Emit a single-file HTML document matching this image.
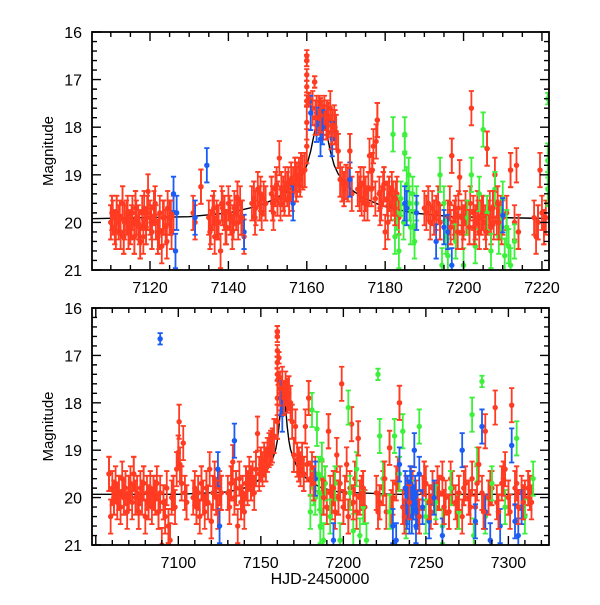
<!DOCTYPE html>
<html><head><meta charset="utf-8"><style>
html,body{margin:0;padding:0;background:#fff}
svg text{font-family:"Liberation Sans",sans-serif}
</style></head><body>
<svg id="c" width="600" height="600" viewBox="0 0 600 600" xmlns="http://www.w3.org/2000/svg"></svg>
<script>
// ---------- DATA ----------
const topRedT=[7110,7110.5,7111,7111.5,7112,7112.5,7113,7113.5,7114,7114.5,7115,7115.5,7116,7116.5,7117,7117.5,7118,7118.5,7119,7119.5,7120,7120.5,7121,7121.5,7122,7122.5,7123,7123.5,7124,7124.5,7125,7125.5,7126,
7110.3,7111.3,7112.3,7113.3,7114.3,7115.3,7116.3,7117.3,7118.3,7119.3,7120.3,7121.3,7122.3,7123.3,7124.3,7125.3,
7131,7131.5,7133,
7135,7135.5,7136,7136.5,7137,7137.5,7138,7138.5,7139,7139.5,7140,7140.5,7141,7141.5,7142,7142.5,7143,7143.5,7144,
7135.3,7136.3,7137.3,7138.3,7139.3,7140.3,7141.3,7142.3,7143.3,
7146,7146.5,7147,7147.5,7148,7148.5,7149,7149.5,7146.8,7148.2,
7151,7151.5,7152,7152.5,7153,7153.5,7154,7154.5,7155,7155.5,7156,7156.5,7157,7157.5,7158,7158.5,7159,7159.5,
7151.3,7152.3,7153.3,7154.3,7155.3,7156.3,7157.3,7158.3,
7160,7160,7160,7160,7160,7160,7160,
7160.5,7161,7161.5,7162,7162.5,7163,7163.5,7164,7164.5,7165,7165.5,7166,7166.5,7167,7167.5,7162.2,7163.2,7164.2,7165.2,7166.2,7167.2,7168,
7168.5,7169,7169.5,7170,7170.5,7171,7171.5,
7173,7173.5,7174,7174.5,7175,7175.5,7176,7176.5,7177,7177.5,7178,7178.5,7179,7179.5,7180,7180.5,7181,7181.5,7182,7182.5,7183,7183.5,
7173.7,7174.7,7175.7,7176.7,7177.7,7178.7,7179.7,7180.7,7181.7,7182.7,
7190,7190.5,7191,7191.5,7192,7192.5,7193,7193.5,7194,
7196,7196.5,7197,7197.5,7198,7198.5,7199,7199.5,7200,7200.5,7201,7201.5,7202,7202.5,7203,7203.5,7204,7204.5,7205,7205.5,7206,7206.5,7207,7207.5,7208,7208.5,7209,7209.5,7210,
7196.7,7197.7,7198.7,7199.7,7200.7,7201.7,7202.7,7203.7,7204.7,7205.7,7206.7,7207.7,7208.7,7209.7,
7211,7212,7213,7213.5,7214,
7218,7218.5,7219,7219.5,7220,7220.5,7221];
const topRedM=[20.0,19.9,20.1,19.8,20.0,20.2,19.6,20.0,19.9,20.2,20.1,19.8,20.3,19.9,20.0,20.4,19.8,19.7,20.1,19.35,19.9,20.2,19.7,20.0,20.3,19.8,20.5,19.9,20.1,19.7,19.9,20.2,19.8,
19.8,20.2,19.9,20.3,19.8,20.0,19.7,20.1,20.3,19.8,20.0,19.6,20.2,19.9,20.4,19.9,
19.8,20.0,19.25,
19.9,20.1,19.8,20.3,19.9,20.0,20.6,19.7,19.8,20.1,19.6,19.9,20.2,19.7,19.8,20.0,19.6,19.9,20.3,
20.2,19.7,20.0,19.6,20.1,19.8,20.0,19.5,19.9,
19.6,19.5,19.7,19.3,19.6,19.8,19.5,19.6,19.9,19.4,
19.4,19.8,19.3,19.5,18.65,19.3,19.4,19.2,19.3,19.5,19.1,19.2,19.0,19.1,19.0,18.9,18.95,18.9,
19.6,19.2,19.6,19.5,19.2,19.4,19.2,19.1,
16.5,16.6,16.9,17.15,17.45,17.9,18.4,
17.4,17.45,17.6,17.05,17.7,17.8,17.75,17.8,17.7,17.9,17.85,17.6,18.0,17.9,18.1,17.8,17.7,17.9,17.8,18.1,18.0,18.5,
19.1,19.2,19.3,19.15,19.2,18.5,19.4,
19.3,19.4,19.5,19.2,19.4,19.6,18.6,19.3,18.4,19.5,17.85,19.4,19.6,19.3,20.2,19.5,19.4,19.6,19.5,19.7,19.4,19.9,
19.2,19.6,19.3,18.9,18.3,19.7,19.2,20.0,19.3,19.5,
19.7,19.8,19.6,20.0,19.7,19.9,19.8,19.6,20.0,
19.9,19.6,18.6,20.0,19.8,20.2,19.05,19.9,20.0,19.7,19.9,20.1,17.6,19.8,20.0,19.7,20.2,19.9,19.8,20.0,18.45,19.9,20.1,19.7,19.0,19.9,20.0,19.8,19.9,
20.1,19.9,19.7,20.2,19.9,19.6,20.1,19.9,19.8,20.2,19.7,20.0,19.6,20.1,
19.8,18.9,20.0,18.8,20.2,
19.9,20.3,20.0,18.9,19.8,20.1,19.9];
const topBlueT=[7126,7126.5,7126.8,7131.5,7134.5,7144,7156.5,7161,7162.5,7163.5,7164,7166.5,7171,7185,7185.5,7188,7193,7195,7196,7197,7210];
const topBlueM=[19.4,20.6,19.8,19.9,18.8,20.2,19.6,17.7,17.95,18.25,18.0,18.25,19.1,19.6,19.7,19.8,20.4,20.1,20.2,20.9,19.85];
const topGreenT=[7182,7182.5,7183,7183.5,7184,7185,7185,7185.5,7186,7186.5,7187,7187.5,7188,7184.7,7186.2,7187.2,7194,7194.5,7195,7195.5,7196,7198,7200,7201,7202,7203,7204,7205,7206,7207,7208,7209,7210,7210.5,7211,7212,7213,7209.5,7211.5,7221.5,7221.5,7221.5];
const topGreenM=[18.15,20.3,19.8,20.6,19.5,18.15,18.55,19.2,19.0,20.1,19.4,20.4,19.6,20.0,19.6,20.1,19.0,20.9,19.6,20.3,20.7,20.4,20.9,19.9,19.0,20.5,19.4,18.05,19.8,20.6,19.3,20.3,19.5,20.7,20.1,20.9,20.4,20.0,20.5,17.4,18.7,19.3];

const botRedT=[7058,7059,7060,7061,7062,7063,7064,7065,7066,7067,7068,7069,7070,7071,7072,7073,7074,7075,7076,7077,7078,7079,7080,7081,7082,7083,7084,7085,7086,7087,7088,7089,7090,7091,7092,7093,7094,7095,7096,7097,7098,7099,7100,7100.5,7101,7102,7103,7104,7105,
7109,7110,7111,7112,7113,7114,7115,7116,7117,7118,7119,7120,7121,7122,7123,7124,7125,7126,
7130,7131,7132,7133,7134,7135,7136,7137,7138,7139,7140,7141,7142,7143,7144,7145,7146,7147,7148,7149,7150,7151,7152,7153,7154,7155,7156,7157,7158,
7160,7160,7160,7160,7160,7160,7160,7161,7160.5,7161.5,7162,7163,7164,7165,7166,7167,7168,7169,7170,7171,7172,7173,7174,7175,7176,7177,7178,7179,7180,7181,7182,7183,
7187,7188,7189,7190,7191,7192,7193,7194,7195,7196,7197,7198,7199,7200,7201,7202,7203,7204,7205,7206,7207,7208,7209,7210,7211,7212,7213,
7220,7222,7224,7226,7228,7230,7232,7234,7236,7238,7240,7242,7244,7246,7248,7250,7252,7254,7256,7258,7260,7262,7264,7266,7268,7270,7272,7274,7276,7278,7280,7282,7284,7286,7288,7290,7292,7294,7296,7298,7300,7302,7304,7306,7308,7310,7312,7314,
7221,7225,7229,7233,7237,7241,7245,7249,7253,7257,7261,7265,7269,7273,7277,7281,7285,7289,7293,7297,7301,7305,7309,7313];
const botRedM=[19.5,20.4,19.8,20.0,19.7,20.1,19.9,20.2,19.6,20.0,19.8,20.3,19.9,19.7,20.1,19.5,20.0,19.9,20.3,19.8,20.0,19.7,20.4,19.9,20.1,19.8,20.2,19.9,20.0,19.7,20.3,19.9,21.0,20.1,20.4,19.8,20.6,20.9,20.0,19.9,20.2,19.4,19.05,18.4,19.3,19.7,18.85,19.9,20.1,
20.0,19.8,20.2,19.9,20.4,19.7,20.0,20.3,19.8,20.1,19.4,20.5,19.9,19.6,20.0,20.3,19.8,19.9,
19.9,20.2,19.7,19.25,20.0,19.8,20.6,19.6,20.1,19.9,20.3,19.7,19.8,19.5,19.7,19.6,19.9,19.4,18.65,19.5,19.3,19.4,19.2,19.3,19.1,19.0,18.95,18.9,18.7,
16.5,16.6,16.9,17.15,17.4,17.9,18.4,17.05,17.5,17.7,17.8,17.6,17.9,17.7,17.85,17.8,18.0,18.4,19.1,18.5,19.2,19.3,19.4,19.2,19.5,18.5,19.3,17.9,19.6,19.4,19.7,19.5,
19.6,20.0,19.7,20.2,18.6,19.9,20.1,19.8,20.3,19.1,20.0,19.7,17.6,20.2,19.9,19.3,20.4,19.8,18.45,20.1,19.6,20.3,18.75,20.0,19.9,19.8,20.2,
19.9,20.1,19.8,20.3,18.95,20.0,19.7,18.0,20.2,19.9,20.1,19.8,20.0,20.4,19.9,19.7,20.1,19.8,20.2,19.9,19.6,20.0,20.3,19.8,20.1,19.9,20.4,19.7,20.0,19.6,20.2,19.3,19.9,18.6,20.0,19.8,18.1,20.3,19.7,19.4,20.0,18.05,19.8,20.2,19.9,20.0,19.8,20.1,
20.3,19.6,20.2,19.5,20.4,19.7,20.2,19.6,20.3,19.7,20.2,19.6,20.3,19.8,20.2,19.7,20.3,19.8,20.1,19.6,20.3,19.7,20.1,19.9];
const botBlueT=[7089,7124,7125,7134,7162,7163,7183,7194,7230,7232,7234,7238,7239,7240,7241,7242,7243,7244,7246,7248,7252,7255,7260,7272,7280,7284,7286,7289,7295,7302,7304,7306,7308,7237.5,7238.5,7239.5,7240.5,7241.5,7242.5,7243.5,7244.5];
const botBlueM=[16.65,19.4,20.6,18.8,17.9,18.25,19.6,20.9,20.6,20.9,19.3,20.2,19.9,20.4,19.8,20.1,19.0,20.6,19.5,20.2,20.5,20.0,20.8,19.0,20.5,18.5,20.3,20.9,20.6,18.9,20.5,20.8,20.2,19.8,20.3,20.0,19.7,20.4,20.1,19.9,20.3];
const botGreenT=[7180,7181,7182,7184,7185,7186,7187,7188,7183,7185.5,7186.5,7189,7192,7195,7198,7203,7204,7206,7208,7210,7212,7214,7221,7222,7224,7228,7231,7234,7236,7238,7241,7246,7250,7256,7260,7265,7270,7278,7279,7281,7284,7286,7290,7298,7305,7310,7315];
const botGreenM=[20.3,18.15,19.8,18.55,19.5,20.6,19.2,20.9,20.0,19.9,20.3,19.7,20.4,19.7,20.9,18.1,19.9,20.7,19.4,20.8,20.2,20.9,17.4,18.7,19.6,20.3,18.7,19.5,18.6,20.5,20.0,18.5,20.4,20.1,20.6,19.8,20.3,18.25,20.8,19.3,17.55,20.4,19.7,20.2,18.75,20.4,19.6];

const modelT=[7040,7100,7130,7140,7148,7152,7155,7157,7159,7160,7161,7162,7163,7163.5,7164,7165,7166,7167,7168,7170,7172,7175,7179,7187,7197,7230,7330];
const modelM=[19.93,19.93,19.88,19.8,19.65,19.5,19.35,19.2,18.98,18.8,18.5,18.1,17.75,17.65,17.75,18.1,18.5,18.8,18.98,19.2,19.35,19.5,19.65,19.8,19.88,19.93,19.93];

const topXTicks=[7120,7140,7160,7180,7200,7220];
const botXTicks=[7100,7150,7200,7250,7300];
const yTicks=[16,17,18,19,20,21];

// ---------- DRAW ----------
const NS="http://www.w3.org/2000/svg";
const svg=document.getElementById('c');
function mk(tag,attrs,parent){const e=document.createElementNS(NS,tag);for(const k in attrs)e.setAttribute(k,attrs[k]);(parent||svg).appendChild(e);return e;}
const RED="#ff3b22",GREEN="#3cf03c",BLUE="#1a5cf5";

function panel(name,x0,x1,y0,y1,dmin,dmax,xTicks,minorStep,majorStep,series){
  const g=mk('g',{});
  
  
  const sx=t=>x0+(t-dmin)/(dmax-dmin)*(x1-x0);
  const sy=m=>y0+(m-16)/5*(y1-y0);
  const clip='clip-'+name;
  const cp=mk('clipPath',{id:clip},g);mk('rect',{x:x0,y:y0,width:x1-x0,height:y1-y0},cp);
  const dg=mk('g',{'clip-path':'url(#'+clip+')'},g);
  let d='';modelT.forEach((t,i)=>{d+=(i?'L':'M')+sx(t).toFixed(1)+' '+sy(modelM[i]).toFixed(1);});
  const ml=mk('path',{d:d,fill:'none',stroke:'#000','stroke-width':1.4},dg);
  
  
  series.forEach(s=>{
    const sg=mk('g',{},dg);
    
    
    s.t.forEach((t,i)=>{
      const m=s.m[i];const x=sx(t),y=sy(m);
      const e=(m<17.6?0.12:0.36);
      const ya=sy(m-e),yb=sy(m+e);
      mk('path',{d:`M${x} ${ya}V${yb}M${x-2.6} ${ya}H${x+2.6}M${x-2.6} ${yb}H${x+2.6}`,stroke:s.c,'stroke-width':1.8,fill:'none'},sg);
      const p=mk('circle',{cx:x,cy:y,r:2.7,fill:s.c},sg);
      
      
    });
  });
  const fr=mk('rect',{x:x0,y:y0,width:x1-x0,height:y1-y0,fill:'none',stroke:'#000','stroke-width':1.8},g);
  
  
  let td='';
  for(let t=Math.ceil(dmin/minorStep)*minorStep;t<=dmax;t+=minorStep){
    const L=(Math.abs(t/majorStep-Math.round(t/majorStep))<1e-6)?9:5;const x=sx(t);
    td+=`M${x} ${y1}V${y1-L}M${x} ${y0}V${y0+L}`;
  }
  for(let m=16;m<=21.001;m+=0.2){
    const L=(Math.abs(m-Math.round(m))<1e-6)?9:5;const y=sy(m);
    td+=`M${x0} ${y}H${x0+L}M${x1} ${y}H${x1-L}`;
  }
  mk('path',{d:td,stroke:'#000','stroke-width':1.4,fill:'none'},g);
  xTicks.forEach(t=>{
    const tx=mk('text',{x:sx(t),y:y1+23,'text-anchor':'middle','font-size':16},g);tx.textContent=t;
    
    
  });
  yTicks.forEach(m=>{
    const tx=mk('text',{x:x0-10,y:sy(m)+6,'text-anchor':'end','font-size':16},g);tx.textContent=m;
    
    
  });
  const yl=mk('text',{x:0,y:0,'text-anchor':'middle','font-size':15,transform:`translate(53,${(y0+y1)/2}) rotate(-90)`},g);
  yl.textContent='Magnitude';
  
  
}
panel('top-panel',92,549,32,270,7105.2,7221.8,topXTicks,5,20,[
  {name:'series-red',t:topRedT,m:topRedM,c:RED},
  {name:'series-green',t:topGreenT,m:topGreenM,c:GREEN},
  {name:'series-blue',t:topBlueT,m:topBlueM,c:BLUE},
  {name:'series-red-front',t:topRedT.filter((t,i)=>i%3===0),m:topRedM.filter((t,i)=>i%3===0),c:RED}]);
panel('bottom-panel',92,549,308,545,7047.7,7324.6,botXTicks,10,50,[
  {name:'series-red',t:botRedT,m:botRedM,c:RED},
  {name:'series-green',t:botGreenT,m:botGreenM,c:GREEN},
  {name:'series-blue',t:botBlueT,m:botBlueM,c:BLUE},
  {name:'series-red-front',t:botRedT.filter((t,i)=>i%3===0),m:botRedM.filter((t,i)=>i%3===0),c:RED}]);
const xl=mk('text',{x:320,y:584,'text-anchor':'middle','font-size':16});
xl.textContent='HJD-2450000';


</script>
</body></html>
